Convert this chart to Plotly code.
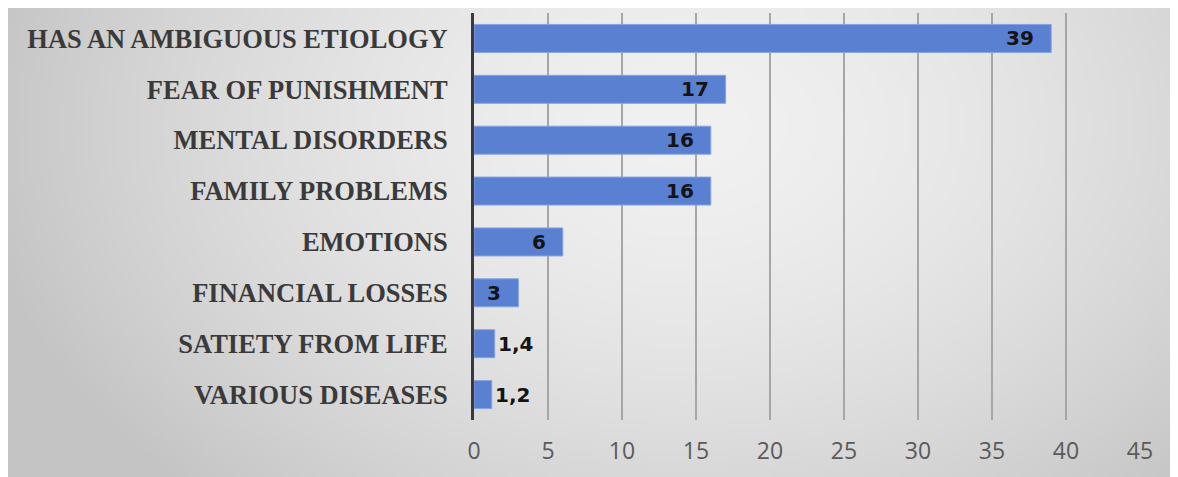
import base64
import struct
import zlib
import plotly.graph_objects as go

categories = ["HAS AN AMBIGUOUS ETIOLOGY", "FEAR OF PUNISHMENT", "MENTAL DISORDERS",
              "FAMILY PROBLEMS", "EMOTIONS", "FINANCIAL LOSSES", "SATIETY FROM LIFE",
              "VARIOUS DISEASES"]
values = [39, 17, 16, 16, 6, 3, 1.4, 1.2]
labels = ["39", "17", "16", "16", "6", "3", "1,4", "1,2"]
x_ticks = [0, 5, 10, 15, 20, 25, 30, 35, 40, 45]


def gradient_png(w=240, h=100, cx=0.58, cy=0.25, inner=241, outer=196):
    rows = b""
    for j in range(h):
        row = bytearray([0])
        for i in range(w):
            dx = (i / (w - 1) - cx) / 0.62
            dy = (j / (h - 1) - cy) / 1.1
            d = min(1.0, (dx * dx + dy * dy) ** 0.5)
            g = int(inner - (inner - outer) * d ** 1.6)
            row += bytes([g, g, g])
        rows += bytes(row)

    def chunk(tag, data):
        c = tag + data
        return struct.pack(">I", len(data)) + c + struct.pack(">I", zlib.crc32(c) & 0xffffffff)

    png = b"\x89PNG\r\n\x1a\n" + chunk(b"IHDR", struct.pack(">IIBBBBB", w, h, 8, 2, 0, 0, 0))
    png += chunk(b"IDAT", zlib.compress(rows, 9)) + chunk(b"IEND", b"")
    return "data:image/png;base64," + base64.b64encode(png).decode()


W, H = 1170, 469
L, R, T, B = 466, 38, 5, 57
pw, ph = W - L - R, H - T - B

fig = go.Figure(go.Bar(
    x=values, y=categories, orientation="h",
    marker=dict(color="#5a80d2", line=dict(color="#86a3e3", width=1)),
    width=0.55, hoverinfo="x+y",
))

for v, c, lab in zip(values, categories, labels):
    inside = v >= 3
    fig.add_annotation(
        x=v, y=c, text=lab, showarrow=False,
        xanchor="right" if inside else "left", xshift=-15 if inside else 1,
        font=dict(family="DejaVu Sans", size=20, color="#141414", weight="bold"),
    )

fig.add_layout_image(
    source=gradient_png(), xref="paper", yref="paper",
    x=-L / pw, y=1 + T / ph, sizex=W / pw, sizey=H / ph,
    xanchor="left", yanchor="top", sizing="stretch", layer="below",
)

fig.update_layout(
    width=W, height=H,
    margin=dict(l=L, r=R, t=T, b=B),
    paper_bgcolor="#dcdcdc", plot_bgcolor="rgba(0,0,0,0)",
    showlegend=False,
)
fig.update_xaxes(
    range=[0, 45], tickvals=x_ticks, showgrid=True, gridcolor="#a6a6a6", gridwidth=2,
    zeroline=False, showline=False,
    tickfont=dict(family="Open Sans", size=23, color="#5a5a5a"),
    ticks="outside", ticklen=10, tickcolor="rgba(0,0,0,0)",
)
fig.update_yaxes(
    categoryorder="array", categoryarray=categories[::-1],
    tickfont=dict(family="Liberation Serif", size=26.5, color="#3a3a3a", weight="bold"),
    ticks="outside", ticklen=18, tickcolor="rgba(0,0,0,0)",
    showline=True, linecolor="#3a3a3a", linewidth=3, showgrid=False,
)
fig.write_html("out.html")
